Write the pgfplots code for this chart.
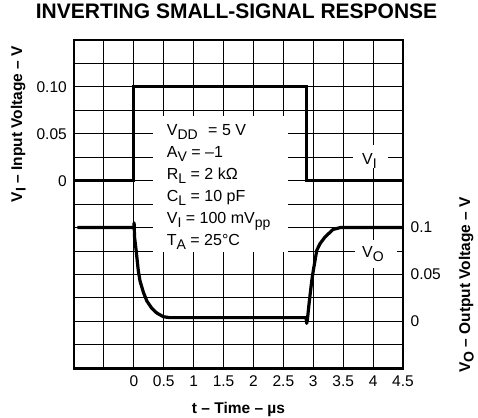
\documentclass[border=0pt]{standalone}
\usepackage{fontspec}
\setmainfont{Liberation Sans}
\usepackage{pgfplots}
\pgfplotsset{compat=1.18}
\newcommand\fs[1]{\fontsize{#1}{#1}\selectfont}
\newcommand\sub[1]{\raisebox{-3.5pt}{\fontsize{14}{14}\selectfont #1}}
\begin{document}
\begin{tikzpicture}
\useasboundingbox (-74pt,-48.7pt) rectangle (404pt,368.3pt);
\begin{axis}[
 at={(0pt,0pt)}, anchor=south west,
 scale only axis, width=329pt, height=328.3pt,
 xmin=-1, xmax=4.5, ymin=-0.2, ymax=0.15,
 xtick={-1,-0.5,0,0.5,1,1.5,2,2.5,3,3.5,4,4.5},
 xticklabels={{},{},0,0.5,1,1.5,2,2.5,3,3.5,4,4.5},
 ytick={-0.2,-0.175,-0.15,-0.125,-0.1,-0.075,-0.05,-0.025,0,0.025,0.05,0.075,0.1,0.125,0.15},
 yticklabels={{},{},{},{},{},{},{},{},0,{},0.05,{},0.10,{},{}},
 grid=major, grid style={black, line width=1pt},
 major tick length=0pt,
 axis line style={line width=2.5pt},
 ticklabel style={font=\fs{15.5}, inner sep=0pt},
 xticklabel style={anchor=north, yshift=-7.5pt},
 yticklabel style={anchor=east, xshift=-7pt},
 xlabel={\bfseries t -- Time -- µs},
 xlabel style={at={(axis description cs:0.5,0)}, anchor=base, yshift=-45pt, font=\fs{15.5}},
 ylabel={\bfseries V\sub{I} -- Input Voltage -- V},
 ylabel style={at={(axis description cs:-0.158,0.744)}, anchor=base, font=\fs{15.5}},
 title={\bfseries INVERTING SMALL-SIGNAL RESPONSE},
 title style={at={(axis description cs:0.494,1)}, anchor=base, yshift=15pt, font=\fs{21}},
]
\addplot[line width=3.2pt, line join=miter] coordinates {
(-1,0) (0,0) (0,0.1) (2.89,0.1) (2.89,0) (4.5,0)};
\end{axis}
\begin{axis}[
 at={(0pt,0pt)}, anchor=south west,
 scale only axis, width=329pt, height=328.3pt,
 xmin=-1, xmax=4.5, ymin=-0.05, ymax=0.3,
 axis line style={draw=none}, xtick=\empty,
 ytick={0,0.05,0.1}, yticklabels={0,0.05,0.1},
 yticklabel pos=right, major tick length=0pt,
 ticklabel style={font=\fs{15.5}, inner sep=0pt},
 yticklabel style={anchor=west, xshift=7.5pt},
 ylabel={\bfseries V\sub{O} -- Output Voltage -- V},
 ylabel style={at={(axis description cs:1.204,0.254)}, anchor=base, font=\fs{15.5}},
]
\addplot[line width=3.2pt, line join=round] coordinates {
(-0.945,0.1) (0,0.1) (0.005,0.105) (0.012,0.09) (0.04,0.075) (0.075,0.054)
(0.104,0.043) (0.16,0.031) (0.216,0.022) (0.3,0.014) (0.383,0.009) (0.494,0.005)
(0.6,0.004) (2.88,0.004) (2.89,-0.002) (2.9,0.001) (2.935,0.022) (2.975,0.0435)
(3.0,0.054) (3.058,0.0757) (3.114,0.083) (3.197,0.09) (3.33,0.098) (3.45,0.1) (4.48,0.1)};
\end{axis}
\fill[white] (79pt,116.3pt) rectangle (214pt,252.3pt);
\fill[white] (279pt,200.3pt) rectangle (314pt,223.3pt);
\fill[white] (281pt,100.3pt) rectangle (323pt,128.3pt);
\begin{scope}[every node/.style={anchor=base west, inner sep=0pt, font=\fs{16}}]
\node at (92.7pt,232.3pt) {V\sub{DD}\hspace{6pt} = 5 V};
\node at (92.7pt,210.3pt) {A\sub{V} = --1};
\node at (92.7pt,188.3pt) {R\sub{L} = 2 kΩ};
\node at (92.7pt,166.3pt) {C\sub{L} = 10 pF};
\node at (92.7pt,144.3pt) {V\sub{I} = 100 mV\sub{pp}};
\node at (92.7pt,122.3pt) {T\sub{A} = 25°C};
\node at (288pt,203.3pt) {V\sub{I}};
\node at (288pt,110.3pt) {V\sub{O}};
\end{scope}
\end{tikzpicture}
\end{document}
